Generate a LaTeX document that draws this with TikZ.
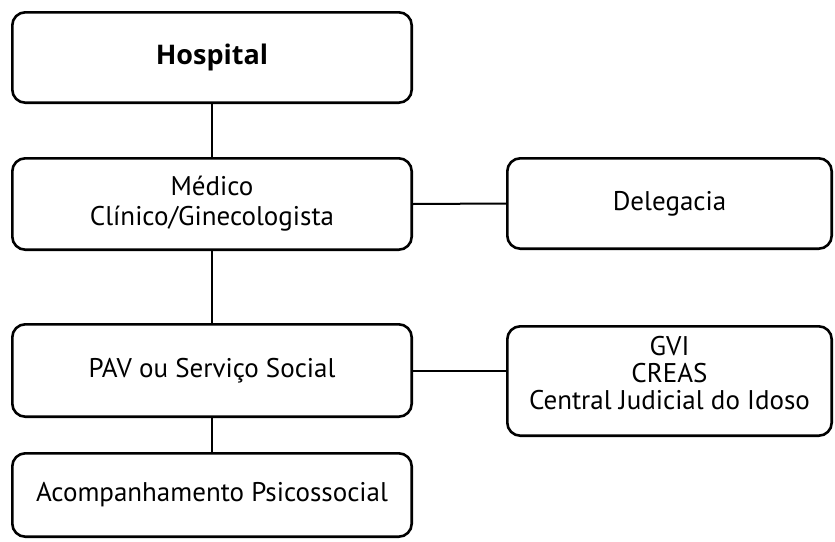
\documentclass[tikz,border=0pt]{standalone}
\usepackage{fontspec}
\setmainfont{PT Sans}
\newfontfamily\headfont{Open Sans}
\begin{document}
\begin{tikzpicture}[x=1pt,y=-1pt,
  box/.style={draw, line width=2.6pt, rounded corners=13pt, align=center,
    font=\fontsize{27}{30}\selectfont, inner sep=0pt},
  leftbox/.style={box, minimum width=399.4pt},
  rightbox/.style={box, minimum width=324.4pt},
  txt/.style={align=center, font=\fontsize{27}{27}\selectfont, inner sep=0pt},
  conn/.style={line width=2pt}]
\useasboundingbox (0,0) rectangle (835,541);
\node[leftbox, minimum height=90.4pt] (hosp) at (212,57.5) {\headfont\bfseries Hospital};
\node[leftbox, minimum height=91.4pt] (med) at (212,204) {Médico\\Clínico/Ginecologista};
\node[rightbox, minimum height=90.4pt] (del) at (669.5,203.5) {Delegacia};
\node[leftbox, minimum height=92.4pt] (pav) at (212,370.5) {PAV ou Serviço Social};
\node[rightbox, minimum height=109.4pt] (gvi) at (669.5,381) {};
\node[txt] (gvitxt) at (669.5,373) {GVI\\CREAS\\Central Judicial do Idoso};
\node[leftbox, minimum height=83.4pt] (acomp) at (212,495) {Acompanhamento Psicossocial};
\draw[conn] (hosp.south) -- (med.north);
\draw[conn] (med.east) -- (del.west);
\draw[conn] (med.south) -- (pav.north);
\draw[conn] (pav.east) -- (pav.east -| gvi.west);
\draw[conn] (pav.south) -- (acomp.north);
\end{tikzpicture}
\end{document}
